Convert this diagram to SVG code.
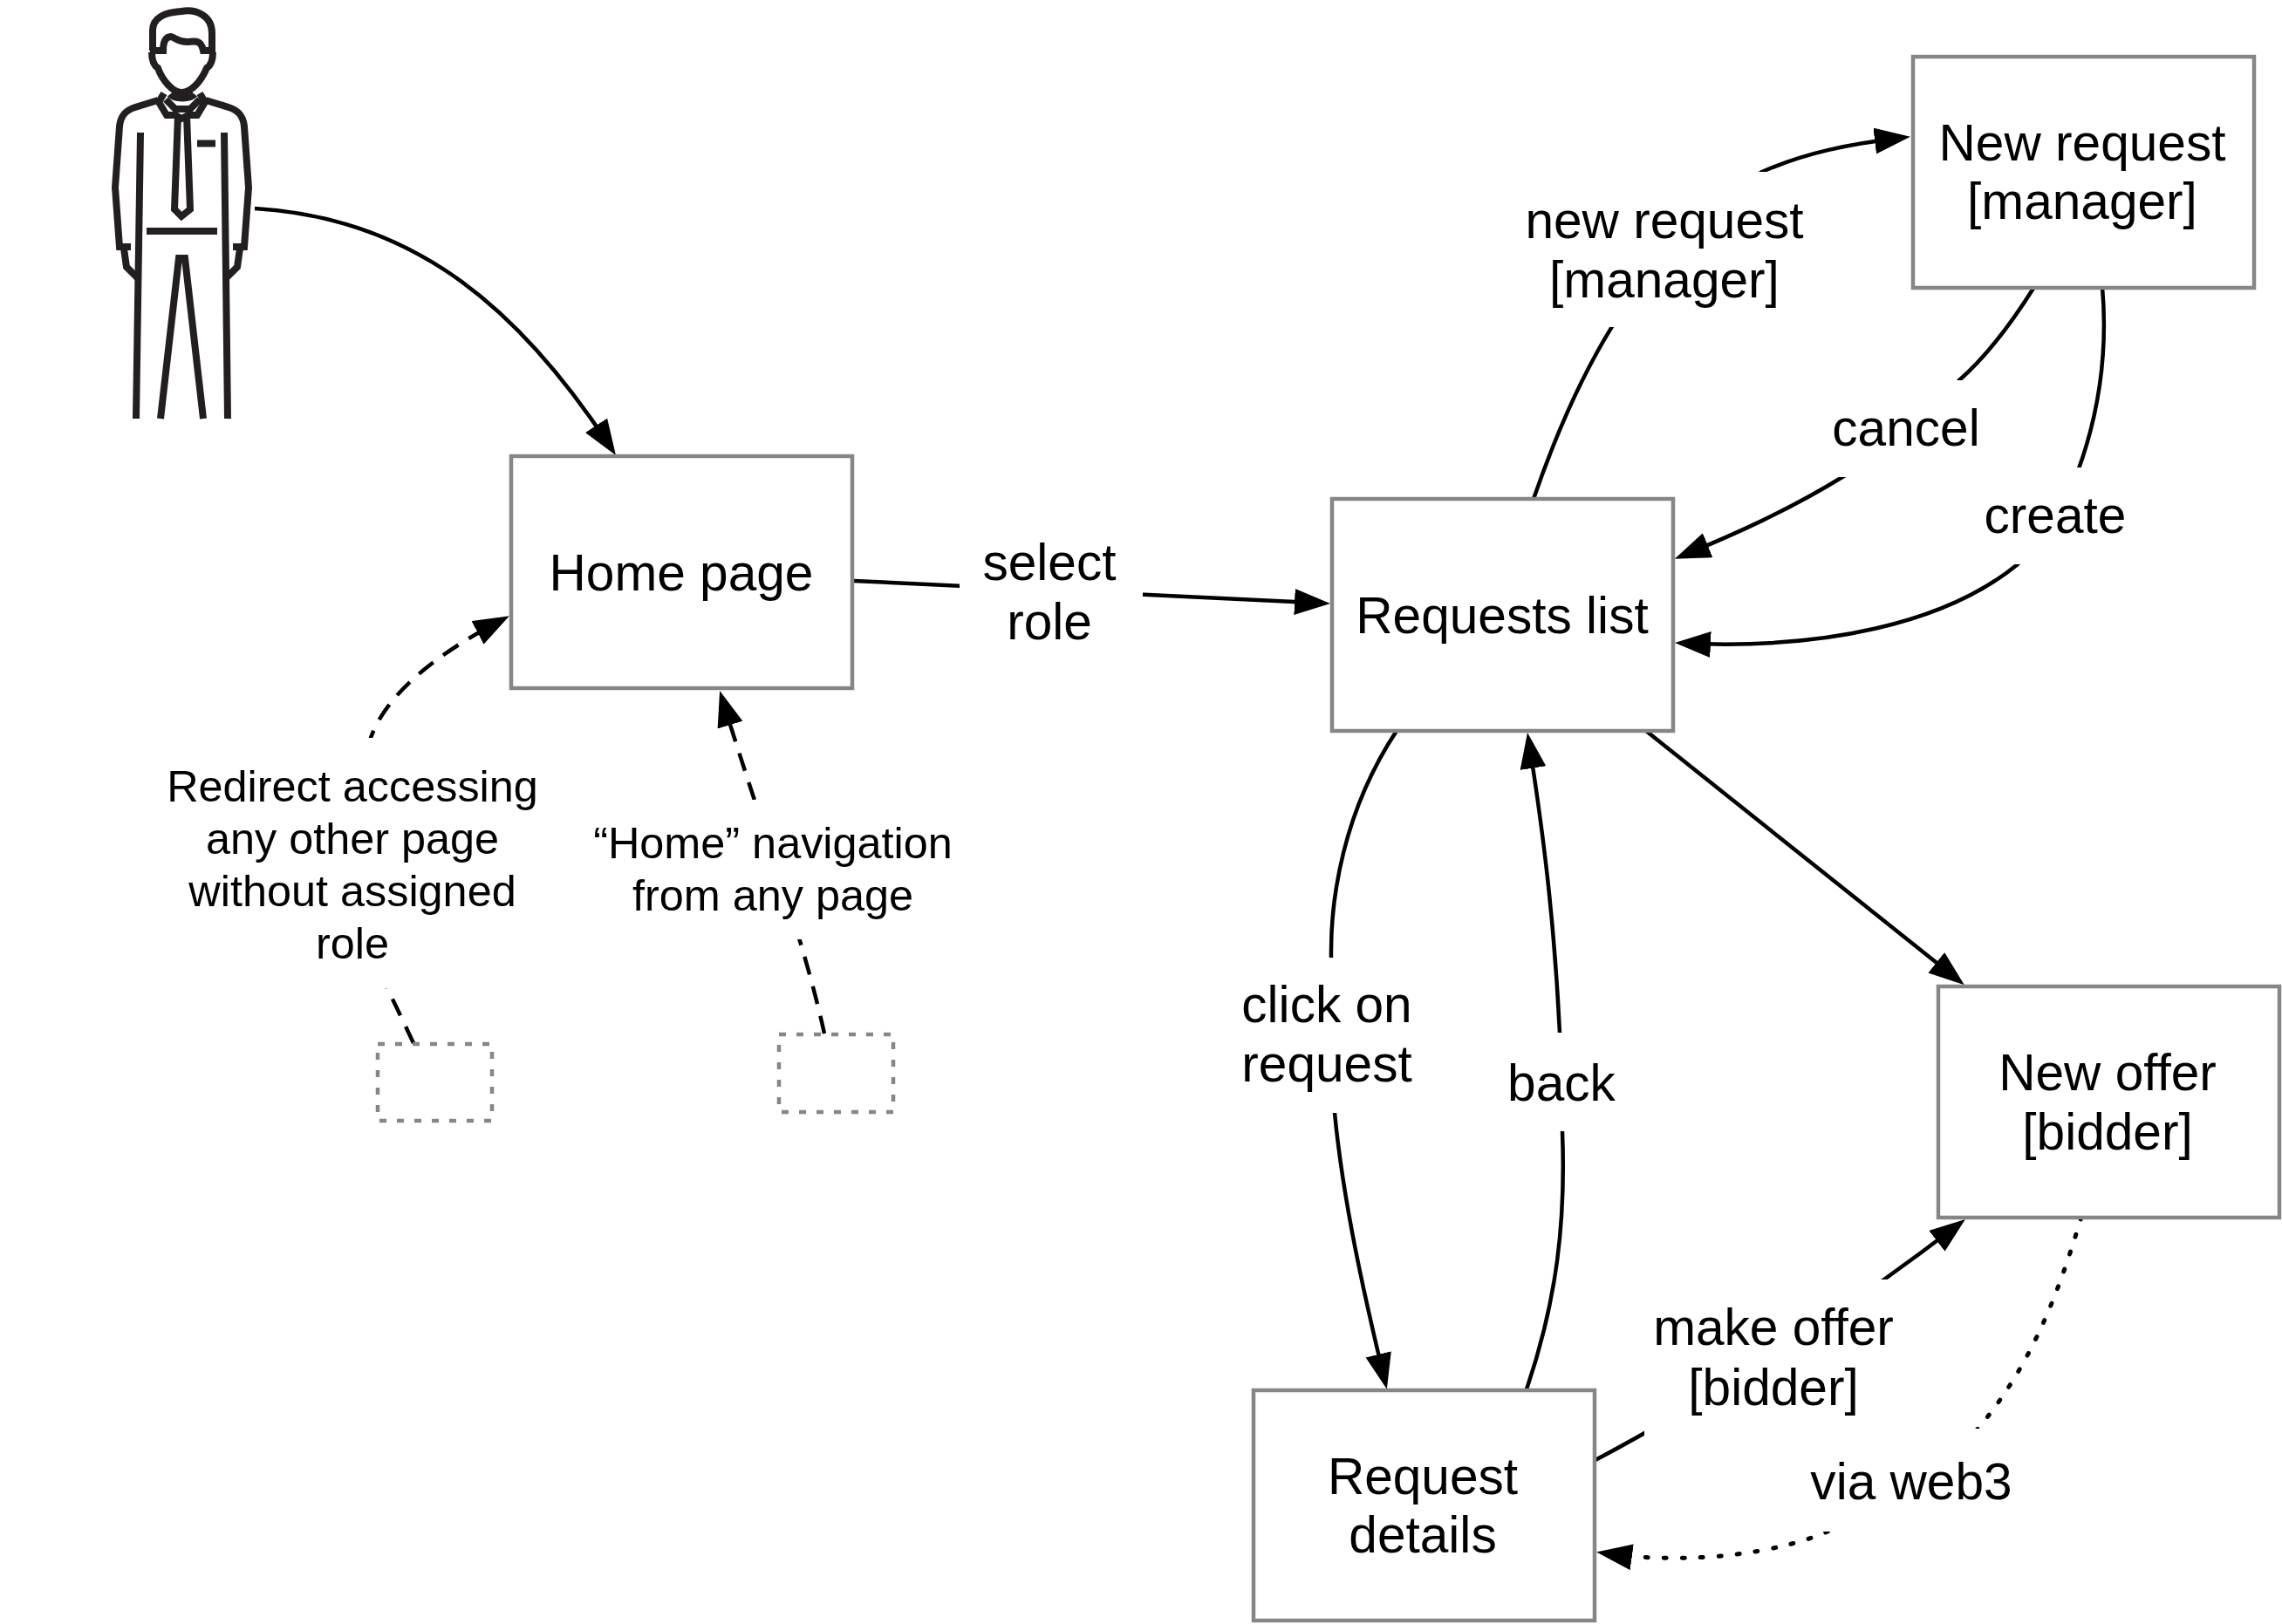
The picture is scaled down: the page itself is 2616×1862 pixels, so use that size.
<svg xmlns="http://www.w3.org/2000/svg" width="2616" height="1862" viewBox="0 0 2616 1862">
<defs>
<style>
.box{fill:#fff;stroke:#868686;stroke-width:4.500}
.ghost{fill:#fff;stroke:#868686;stroke-width:4.500;stroke-dasharray:8 12}
.c{fill:none;stroke:#000;stroke-width:4.500;marker-end:url(#arrow)}
.dash{stroke-dasharray:21 14}
.dot{stroke-dasharray:3 18;stroke-linecap:round;stroke-width:5}
.bg{fill:#fff}
text{font-family:"Liberation Sans",Arial,sans-serif;fill:#000;text-anchor:middle}
.t{font-size:58.600px}
.s{font-size:50.400px}
.p{fill:none;stroke:#231f20;stroke-width:8;stroke-linejoin:miter}
</style>
<marker id="arrow" markerUnits="userSpaceOnUse" markerWidth="42" markerHeight="32" refX="31" refY="15" orient="auto">
<path d="M0,0 L41,15 L0,30 Z" fill="#000"/>
</marker>
</defs>
<rect width="2616" height="1862" fill="#fff"/>
<g id="person">
<path class="p" d="M175,58 V35 C175,20 190,14 208,13 C225,10 243,18 243,38 V58"/>
<path class="p" d="M172,58 H187 C187,48 190,42 196,42 C202,44 205,48 214,48 C222,48 230,44 233,58 H247"/>
<path class="p" d="M174,60 C174,70 176,75 181,78 C186,92 198,106 208,106 C220,106 231,92 237,78 C242,75 244,70 244,60"/>
<path class="p" d="M195,108 C200,114 218,114 223,108"/>
<path class="p" d="M188,107 L182,117 L191,132 H201 L208,136 L216,132 H226 L235,117 L229,107"/>
<path class="p" d="M190,114 L201,125 H218 L229,114"/>
<path class="p" d="M181,115 L155,123 C142,127 138,135 137,145 L132,215 L137,283 H150 M142,285 L145,306 L159,320"/>
<path class="p" d="M236,115 L262,123 C275,127 279,135 280,145 L285,215 L280,283 H267 M275,285 L272,306 L258,320"/>
<path class="p" d="M161,152 L156,480 M257,152 L261,480"/>
<path class="p" d="M204,132 L200,240 L208,248 L218,240 L214,132"/>
<path class="p" d="M226,164.500 H247 M168,265 H249"/>
<path class="p" d="M184,480 L205,296 H212 L233,480"/>
</g>
<g id="connectors">
<path class="c" d="M292,239 C480,250 600,360 700.500,513.700"/>
<path class="c" d="M979,666 L1515,691.500"/>
<path class="c" d="M1758,572 C1800,450 1870,290 2020,197 C2070,175 2120,165 2180,158"/>
<path class="c" d="M2332,329 C2300,380 2270,415 2246,436 C2205,478 2160,520 2112,547 C2050,585 1990,612 1929,637"/>
<path class="c" d="M2410,329 C2417,410 2405,490 2370,570 C2350,605 2330,630 2313,647 C2230,715 2090,745 1930,737.500"/>
<path class="c" d="M1601,838 C1540,930 1525,1030 1526,1098 C1522,1160 1524,1220 1530,1276 C1540,1380 1565,1490 1587.500,1583"/>
<path class="c" d="M1750,1593 C1785,1490 1795,1400 1791,1297 C1790,1260 1789,1210 1788,1184 C1782,1060 1770,960 1752.600,850"/>
<path class="c" d="M1887,838 L2244,1123"/>
<path class="c" d="M1827,1675 C1950,1610 2100,1515 2245,1404"/>
<path class="c dot" d="M2386,1395 C2355,1500 2320,1580 2257,1650 C2210,1700 2150,1735 2095,1756 C2040,1780 1940,1795 1840,1781"/>
<path class="c dash" d="M474,1196 C462,1170 452,1150 444,1133 C410,1050 400,930 425,846 C445,790 510,745 575,711"/>
<path class="c dash" d="M945,1185 C920,1070 870,940 828,801.500"/>
</g>
<g id="edge-labels">
<rect class="bg" x="1100" y="610" width="210" height="140"/>
<text class="t" x="1203" y="665">select</text><text class="t" x="1203" y="733">role</text>
<rect class="bg" x="1735" y="197" width="350" height="178"/>
<text class="t" x="1908" y="273">new request</text><text class="t" x="1908" y="341">[manager]</text>
<rect class="bg" x="2095" y="436" width="185" height="111"/>
<text class="t" x="2185" y="511">cancel</text>
<rect class="bg" x="2260" y="536" width="192" height="111"/>
<text class="t" x="2356" y="611">create</text>
<rect class="bg" x="1410" y="1098" width="225" height="178"/>
<text class="t" x="1521" y="1172">click on</text><text class="t" x="1521" y="1240">request</text>
<rect class="bg" x="1710" y="1184" width="160" height="113"/>
<text class="t" x="1790" y="1262">back</text>
<rect class="bg" x="1885" y="1467" width="300" height="179"/>
<text class="t" x="2033" y="1542">make offer</text><text class="t" x="2033" y="1611">[bidder]</text>
<rect class="bg" x="2060" y="1638" width="262" height="118"/>
<text class="t" x="2191" y="1719">via web3</text>
<rect class="bg" x="175" y="846" width="459" height="287"/>
<text class="s" x="404" y="919">Redirect accessing</text><text class="s" x="404" y="979">any other page</text><text class="s" x="404" y="1039">without assigned</text><text class="s" x="404" y="1099">role</text>
<rect class="bg" x="667" y="917" width="442" height="160"/>
<text class="s" x="886" y="984">“Home” navigation</text><text class="s" x="886" y="1044">from any page</text>
</g>
<g id="home-page"><rect class="box" x="586" y="523" width="391" height="266"/><text class="t" x="781" y="677">Home page</text></g>
<g id="requests-list"><rect class="box" x="1527" y="572" width="391" height="266"/><text class="t" x="1722" y="726">Requests list</text></g>
<g id="new-request"><rect class="box" x="2193" y="65" width="391" height="265"/><text class="t" x="2387" y="184">New request</text><text class="t" x="2387" y="251">[manager]</text></g>
<g id="new-offer"><rect class="box" x="2222" y="1131" width="391" height="265"/><text class="t" x="2416" y="1250">New offer</text><text class="t" x="2416" y="1318">[bidder]</text></g>
<g id="request-details"><rect class="box" x="1437" y="1594" width="391" height="264"/><text class="t" x="1631" y="1713">Request</text><text class="t" x="1631" y="1780">details</text></g>
<g id="ghost-1"><rect class="ghost" x="433" y="1197" width="131" height="88"/></g>
<g id="ghost-2"><rect class="ghost" x="893" y="1186" width="131" height="89"/></g>
</svg>
